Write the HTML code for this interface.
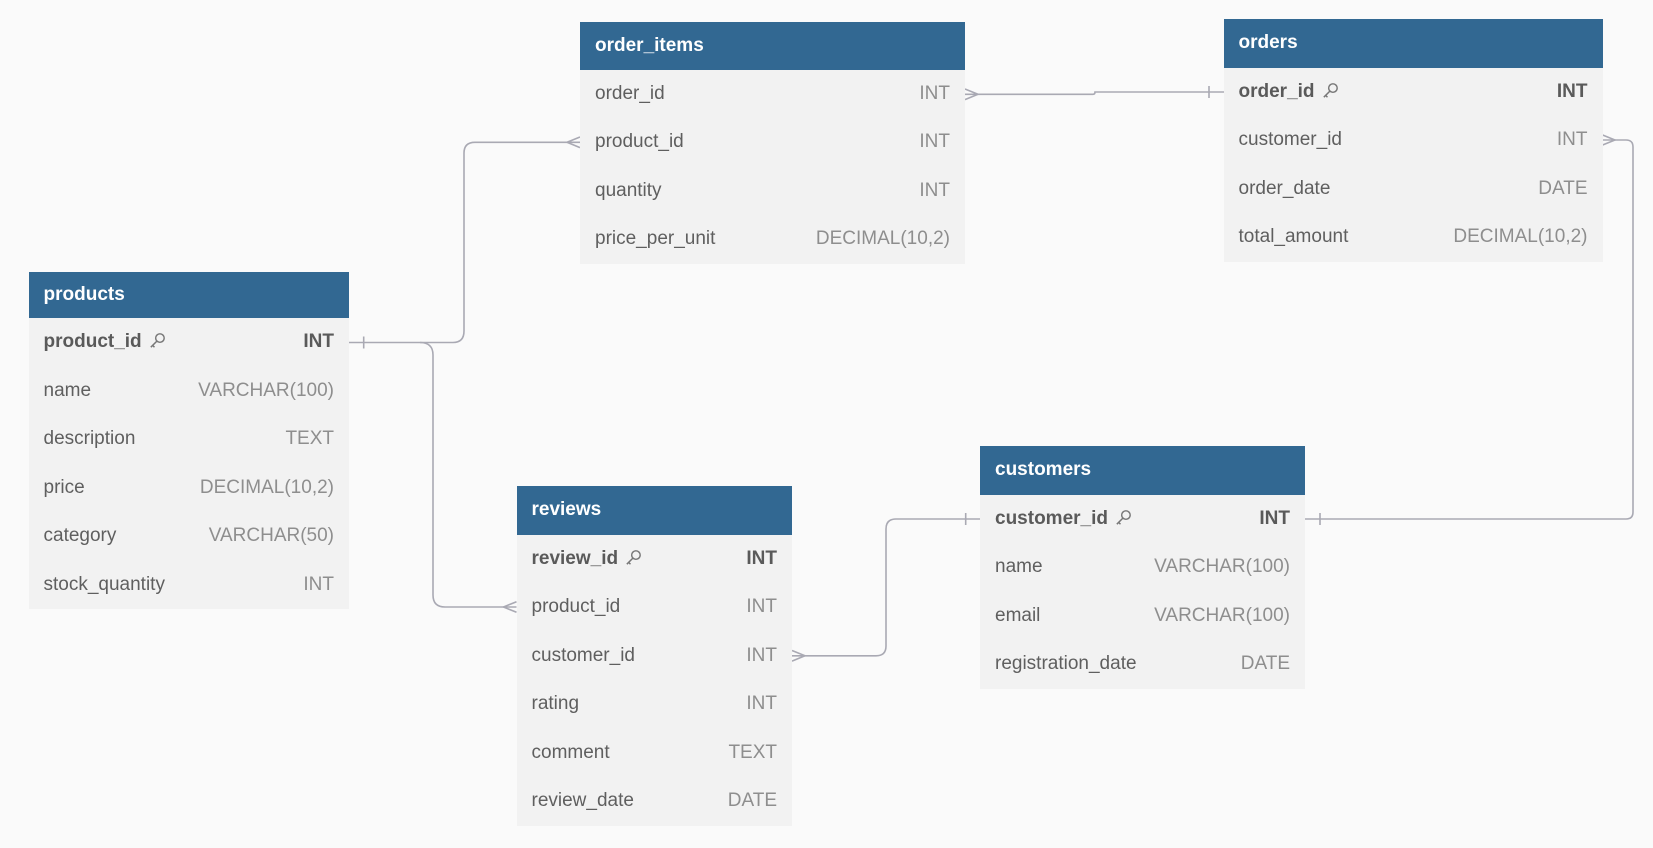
<!DOCTYPE html>
<html><head><meta charset="utf-8"><style>
body{margin:0;width:1653px;height:848px;background:#fafafa;position:relative;overflow:hidden;font-family:"Liberation Sans",sans-serif}
.t{position:absolute;background:#f2f2f2}
.h{background:#326892;color:#fff;font-weight:bold;font-size:19px;padding-left:15px;box-sizing:border-box;display:flex;align-items:center}
.r{height:48.5px;display:flex;align-items:center;justify-content:space-between;padding:0 15px;font-size:19px;color:#5f5f5f}
.r span:last-child{color:#8e8e8e}
.r.pk span{font-weight:bold;color:#5a5a5a}
.k{display:inline-block;width:17px;height:17px;margin-left:7px;vertical-align:-2px}
svg.l{position:absolute;left:0;top:0}
</style></head><body>
<svg class="l" width="1653" height="848" fill="none" stroke="#a9a9b3" stroke-width="1.6">
<path d="M965 94.3 H1093 Q1095 94.3 1095 92 H1224"/>
<path d="M965 89 L978 94.3 L965 99.6"/>
<path d="M1209 86 V98"/>
<path d="M1602 140 H1626 Q1633 140 1633 147 V512 Q1633 519 1626 519 H1305"/>
<path d="M1602 134.7 L1615 140 L1602 145.3"/>
<path d="M1320 513 V525"/>
<path d="M349 342.5 H453 Q464 342.5 464 331 V153 Q464 142.3 475 142.3 H580"/>
<path d="M580 137 L567 142.3 L580 147.6"/>
<path d="M363.7 336.5 V348.5"/>
<path d="M420 342.5 Q433 342.5 433 355 V595 Q433 607 445 607 H516.5"/>
<path d="M516.5 601.7 L503.5 607 L516.5 612.3"/>
<path d="M792 655.8 H876 Q886 655.8 886 646 V529 Q886 519 896 519 H980"/>
<path d="M792 650.5 L805 655.8 L792 661.1"/>
<path d="M965.7 513 V525"/>
</svg>

<div class="t" style="left:28.5px;top:272px;width:320.5px">
<div class="h" style="height:46px">products</div>
<div class="r pk"><span>product_id<svg class="k" viewBox="0 0 14 14" fill="none" stroke="#777" stroke-width="1.2"><circle cx="9" cy="5" r="3.5"/><path d="M6.5 7.5 L1.5 12.5 M3 11 L4.5 12.5"/></svg></span><span>INT</span></div>
<div class="r"><span>name</span><span>VARCHAR(100)</span></div>
<div class="r"><span>description</span><span>TEXT</span></div>
<div class="r"><span>price</span><span>DECIMAL(10,2)</span></div>
<div class="r"><span>category</span><span>VARCHAR(50)</span></div>
<div class="r"><span>stock_quantity</span><span>INT</span></div>
</div>

<div class="t" style="left:580px;top:22px;width:385px">
<div class="h" style="height:47.5px">order_items</div>
<div class="r"><span>order_id</span><span>INT</span></div>
<div class="r"><span>product_id</span><span>INT</span></div>
<div class="r"><span>quantity</span><span>INT</span></div>
<div class="r"><span>price_per_unit</span><span>DECIMAL(10,2)</span></div>
</div>

<div class="t" style="left:1223.5px;top:19px;width:379px">
<div class="h" style="height:48.5px">orders</div>
<div class="r pk"><span>order_id<svg class="k" viewBox="0 0 14 14" fill="none" stroke="#777" stroke-width="1.2"><circle cx="9" cy="5" r="3.5"/><path d="M6.5 7.5 L1.5 12.5 M3 11 L4.5 12.5"/></svg></span><span>INT</span></div>
<div class="r"><span>customer_id</span><span>INT</span></div>
<div class="r"><span>order_date</span><span>DATE</span></div>
<div class="r"><span>total_amount</span><span>DECIMAL(10,2)</span></div>
</div>

<div class="t" style="left:980px;top:446px;width:325px">
<div class="h" style="height:48.5px">customers</div>
<div class="r pk"><span>customer_id<svg class="k" viewBox="0 0 14 14" fill="none" stroke="#777" stroke-width="1.2"><circle cx="9" cy="5" r="3.5"/><path d="M6.5 7.5 L1.5 12.5 M3 11 L4.5 12.5"/></svg></span><span>INT</span></div>
<div class="r"><span>name</span><span>VARCHAR(100)</span></div>
<div class="r"><span>email</span><span>VARCHAR(100)</span></div>
<div class="r"><span>registration_date</span><span>DATE</span></div>
</div>

<div class="t" style="left:516.5px;top:486px;width:275.5px">
<div class="h" style="height:48.5px">reviews</div>
<div class="r pk"><span>review_id<svg class="k" viewBox="0 0 14 14" fill="none" stroke="#777" stroke-width="1.2"><circle cx="9" cy="5" r="3.5"/><path d="M6.5 7.5 L1.5 12.5 M3 11 L4.5 12.5"/></svg></span><span>INT</span></div>
<div class="r"><span>product_id</span><span>INT</span></div>
<div class="r"><span>customer_id</span><span>INT</span></div>
<div class="r"><span>rating</span><span>INT</span></div>
<div class="r"><span>comment</span><span>TEXT</span></div>
<div class="r"><span>review_date</span><span>DATE</span></div>
</div>
</body></html>
